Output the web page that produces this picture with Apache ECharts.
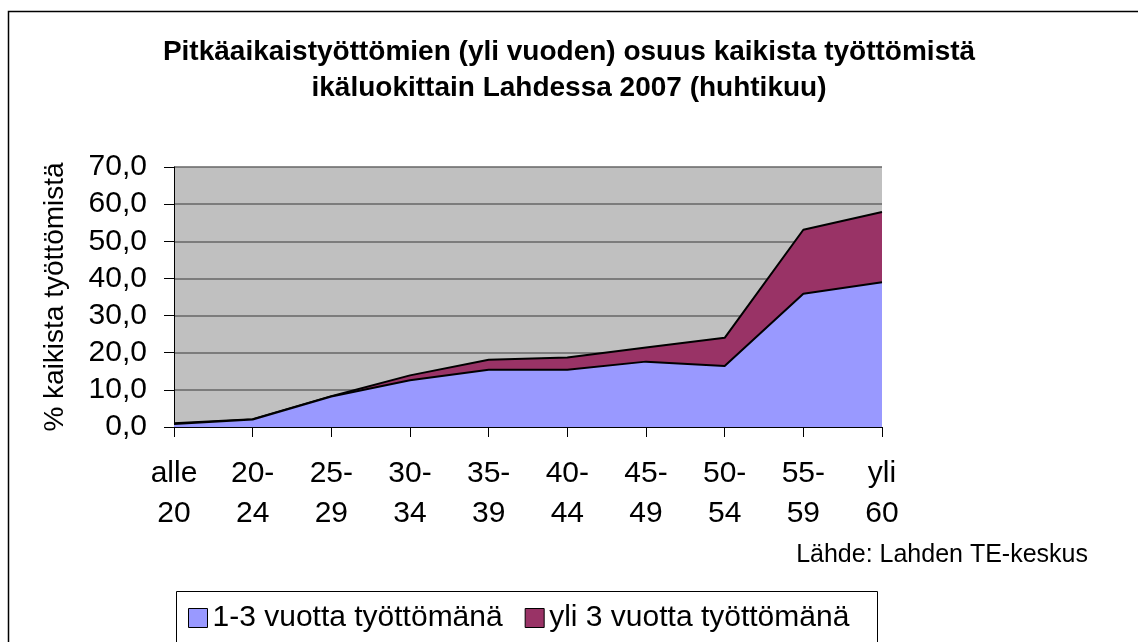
<!DOCTYPE html>
<html>
<head>
<meta charset="utf-8">
<script src="https://cdn.jsdelivr.net/npm/echarts@6/dist/echarts.min.js"></script>
<style>
html, body { margin: 0; padding: 0; background: #fff; }
#chart { width: 1138px; height: 642px; }
</style>
</head>
<body>
<div id="chart"></div>
<script>
var ikaluokat = ['alle\n20', '20-\n24', '25-\n29', '30-\n34', '35-\n39', '40-\n44', '45-\n49', '50-\n54', '55-\n59', 'yli\n60'];
var vuotta1_3 = [0.8, 2.0, 8.2, 12.6, 15.4, 15.4, 17.6, 16.4, 35.9, 39.0];
var yli3 = [0.2, 0.1, 0.1, 1.3, 2.7, 3.3, 3.8, 7.6, 17.2, 18.9];
var sarjat = ['1-3 vuotta työttömänä', 'yli 3 vuotta työttömänä'];

var fontti = '"Liberation Sans", Arial, sans-serif';

var myChart = echarts.init(document.getElementById('chart'));
var option = {
    backgroundColor: '#fff',
    textStyle: { fontFamily: fontti, color: '#000' },
    title: {
        text: 'Pitkäaikaistyöttömien (yli vuoden) osuus kaikista työttömistä\nikäluokittain Lahdessa 2007 (huhtikuu)',
        left: 'center',
        top: 29,
        textStyle: {
            fontFamily: fontti,
            fontSize: 28,
            fontWeight: 'bold',
            lineHeight: 36,
            color: '#000'
        }
    },
    legend: {
        left: 188,
        top: 602,
        padding: 0,
        icon: 'rect',
        itemWidth: 19,
        itemHeight: 19,
        itemGap: 22,
        itemTextGap: 11,
        itemStyle: { borderColor: '#000', borderWidth: 1 },
        textStyle: { fontFamily: fontti, fontSize: 30, color: '#000', lineHeight: 32 },
        data: sarjat
    },
    grid: {
        left: 174,
        right: 256,
        top: 167,
        bottom: 215,
        show: true,
        backgroundColor: '#c0c0c0',
        borderWidth: 0
    },
    xAxis: {
        type: 'category',
        boundaryGap: false,
        data: ikaluokat,
        axisLine: { lineStyle: { color: '#000', width: 1 } },
        axisTick: { show: true, interval: 0, length: 10, lineStyle: { color: '#000' } },
        axisLabel: {
            interval: 0,
            margin: 27,
            fontFamily: fontti,
            fontSize: 30,
            lineHeight: 40,
            color: '#000'
        }
    },
    yAxis: {
        type: 'value',
        min: 0,
        max: 70,
        interval: 10,
        name: '% kaikista työttömistä',
        nameLocation: 'middle',
        nameRotate: 90,
        nameGap: 105,
        nameTextStyle: { fontFamily: fontti, fontSize: 28, color: '#000' },
        axisLine: { show: true, lineStyle: { color: '#000', width: 1 } },
        axisTick: { show: true, length: 10, lineStyle: { color: '#000' } },
        splitLine: { show: true, lineStyle: { color: '#666666', width: 1.5 } },
        axisLabel: {
            margin: 27,
            fontFamily: fontti,
            fontSize: 30,
            color: '#000',
            formatter: function (v) { return v.toFixed(1).replace('.', ','); }
        }
    },
    graphic: [
        {
            type: 'rect',
            shape: { x: 8.5, y: 11.5, width: 1200, height: 700 },
            style: { fill: 'none', stroke: '#000', lineWidth: 1.5 },
            z: -1
        },
        {
            type: 'rect',
            shape: { x: 176.5, y: 591.5, width: 701, height: 100 },
            style: { fill: 'none', stroke: '#000', lineWidth: 1 },
            z: 10
        },
        {
            type: 'text',
            right: 1138 - 1088,
            top: 543,
            style: { text: 'Lähde: Lahden TE-keskus', font: '25px "Liberation Sans", Arial, sans-serif', fill: '#000' }
        }
    ],
    series: [
        {
            name: sarjat[0],
            type: 'line',
            stack: 'yht',
            data: vuotta1_3,
            symbol: 'none',
            z: 3,
            itemStyle: { color: '#9999ff' },
            lineStyle: { color: '#000', width: 2 },
            areaStyle: { color: '#9999ff', opacity: 1 }
        },
        {
            name: sarjat[1],
            type: 'line',
            stack: 'yht',
            data: yli3,
            symbol: 'none',
            z: 2,
            itemStyle: { color: '#993366' },
            lineStyle: { color: '#000', width: 2 },
            areaStyle: { color: '#993366', opacity: 1 }
        }
    ]
};
myChart.setOption(option);
</script>
</body>
</html>
